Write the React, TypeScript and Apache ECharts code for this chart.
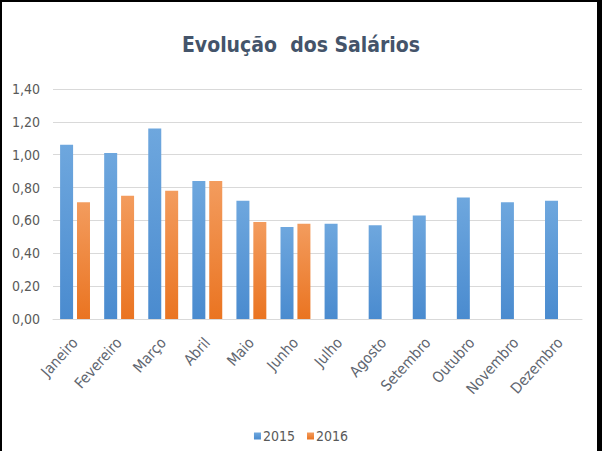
import React, { useEffect, useRef } from "react";
import * as echarts from "echarts";

const months = ["Janeiro", "Fevereiro", "Março", "Abril", "Maio", "Junho", "Julho", "Agosto", "Setembro", "Outubro", "Novembro", "Dezembro"];
const values2015 = [1.06, 1.01, 1.16, 0.84, 0.72, 0.56, 0.58, 0.57, 0.63, 0.74, 0.71, 0.72];
const values2016 = [0.71, 0.75, 0.78, 0.84, 0.59, 0.58, null, null, null, null, null, null];
const seriesNames = ["2015", "2016"];

const FONT = "'Liberation Sans Narrow', 'DejaVu Sans Condensed', 'Open Sans', sans-serif";

export default function App() {
  const ref = useRef<HTMLDivElement>(null);
  useEffect(() => {
    const chart = echarts.init(ref.current!, null, { renderer: "svg" });
    const grad = (top: string, bottom: string) =>
      new echarts.graphic.LinearGradient(0, 0, 0, 1, [
        { offset: 0, color: top },
        { offset: 1, color: bottom },
      ]);
    chart.setOption({
      animation: false,
      backgroundColor: "#ffffff",
      title: {
        text: "Evolução  dos Salários",
        left: "center",
        top: 29,
        textStyle: { fontFamily: FONT, fontSize: 21, fontWeight: "bold", color: "#44546a" },
      },
      legend: {
        data: seriesNames,
        bottom: 3,
        left: "center",
        icon: "rect",
        itemWidth: 7,
        itemHeight: 7,
        itemGap: 12,
        textStyle: { fontFamily: FONT, fontSize: 14, color: "#595959", padding: [0, 0, 0, -3] },
      },
      grid: { left: 53, right: 20, top: 89, bottom: 132 },
      xAxis: {
        type: "category",
        data: months,
        axisLine: { lineStyle: { color: "#d9d9d9" } },
        axisTick: { show: false },
        axisLabel: { rotate: 48, fontFamily: FONT, fontSize: 15, color: "#5f6670", margin: 21, interval: 0 },
      },
      yAxis: {
        type: "value",
        min: 0,
        max: 1.4,
        interval: 0.2,
        axisLine: { show: false },
        axisTick: { show: false },
        splitLine: { lineStyle: { color: "#d9d9d9" } },
        axisLabel: {
          fontFamily: FONT,
          fontSize: 14,
          color: "#595959",
          margin: 13,
          formatter: (v: number) => v.toFixed(2).replace(".", ","),
        },
      },
      series: [
        {
          name: seriesNames[0],
          type: "bar",
          data: values2015,
          barWidth: 13,
          barGap: "30%",
          itemStyle: { color: grad("#6ea7de", "#4a8bcf") },
        },
        {
          name: seriesNames[1],
          type: "bar",
          data: values2016,
          barWidth: 13,
          itemStyle: { color: grad("#f39c5e", "#ea7421") },
        },
      ],
      graphic: [
        { type: "rect", left: 0, top: 0, shape: { width: 2, height: 451 }, style: { fill: "#000" } },
        { type: "rect", left: 0, top: 0, shape: { width: 602, height: 2 }, style: { fill: "#000" } },
        { type: "rect", right: 0, top: 0, shape: { width: 5, height: 451 }, style: { fill: "#000" } },
      ],
    });
    return () => chart.dispose();
  }, []);
  return <div ref={ref} style={{ width: 602, height: 451, position: "fixed", left: 0, top: 0 }} />;
}
